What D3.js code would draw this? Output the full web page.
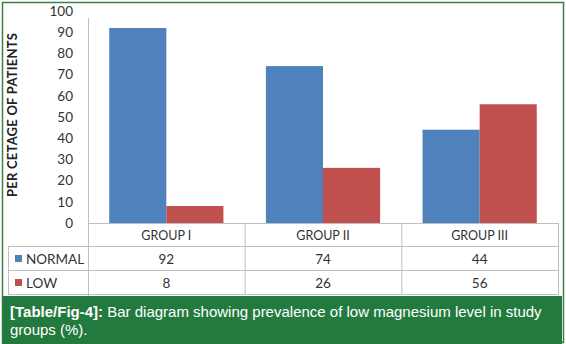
<!DOCTYPE html>
<html><head><meta charset="utf-8">
<script src="https://cdn.jsdelivr.net/npm/d3@7"></script>
<style>body{margin:0;background:#fff}svg{display:block}</style>
</head><body>
<script>
const categories = ["GROUP I", "GROUP II", "GROUP III"];
const seriesNames = ["NORMAL", "LOW"];
const normalValues = [92, 74, 44];
const lowValues = [8, 26, 56];
const yTicks = [0, 10, 20, 30, 40, 50, 60, 70, 80, 90, 100];
const yTitle = "PER CETAGE OF PATIENTS";
const captionBold = "[Table/Fig-4]:";
const captionLine1 = " Bar diagram showing prevalence of low magnesium level in study";
const captionLine2 = "groups (%).";

(function () {
const W = 566, H = 344;
const colors = ["#4F81BD", "#C0504D"];
const series = [normalValues, lowValues];
const svg = d3.select("body").append("svg").attr("width", W).attr("height", H);
const font = "Lato, 'Open Sans', sans-serif";

svg.append("rect").attr("x", 2.5).attr("y", 2.5).attr("width", 561).attr("height", 340)
  .attr("fill", "#fff").attr("stroke", "#3C7D48").attr("stroke-width", 1.5);

const pLeft = 88, pRight = 558, pTop = 11, pBottom = 223;
const x = d3.scaleBand().domain(categories).range([pLeft, pRight]).paddingInner(0).paddingOuter(0);
const x1 = d3.scaleBand().domain(seriesNames).range([0, x.bandwidth()]).paddingInner(0).paddingOuter(0.372);
const y = d3.scaleLinear().domain([0, 100]).range([pBottom, pTop]);

seriesNames.forEach((s, si) => {
  svg.append("g").selectAll("rect").data(categories).join("rect")
    .attr("x", c => x(c) + x1(s))
    .attr("y", (c, i) => y(series[si][i]))
    .attr("width", x1.bandwidth())
    .attr("height", (c, i) => y(0) - y(series[si][i]))
    .attr("fill", colors[si]);
});

const yAxis = d3.axisLeft(y).tickValues(yTicks).tickSize(0).tickPadding(15);
const ya = svg.append("g").attr("transform", `translate(${pLeft},0)`).call(yAxis);
ya.select(".domain").remove();
ya.selectAll("text").attr("font-family", font).attr("font-size", 13.5).attr("fill", "#333");

const lineC = "#BFBFBF";
svg.append("line").attr("x1", pLeft + 0.5).attr("x2", pLeft + 0.5).attr("y1", 18).attr("y2", 296).attr("stroke", lineC);

const rowH = [223, 246.5, 270.5, 294.5];
svg.append("line").attr("x1", pLeft).attr("x2", pRight + 0.5).attr("y1", rowH[0] + 0.5).attr("y2", rowH[0] + 0.5).attr("stroke", lineC);
for (let r = 1; r < rowH.length; r++) {
  svg.append("line").attr("x1", 8).attr("x2", pRight + 0.5).attr("y1", rowH[r]).attr("y2", rowH[r]).attr("stroke", lineC);
}
svg.append("line").attr("x1", 8.5).attr("x2", 8.5).attr("y1", rowH[1]).attr("y2", rowH[3]).attr("stroke", lineC);
categories.forEach(c => {
  svg.append("line").attr("x1", x(c) + x.bandwidth() + 0.5).attr("x2", x(c) + x.bandwidth() + 0.5)
    .attr("y1", rowH[0]).attr("y2", rowH[3]).attr("stroke", lineC);
});
svg.append("g").selectAll("text").data(categories).join("text")
  .attr("x", c => x(c) + x.bandwidth() / 2).attr("y", 240)
  .attr("text-anchor", "middle").attr("font-family", font).attr("font-size", 12.5).attr("fill", "#333")
  .text(c => c);
seriesNames.forEach((s, si) => {
  const cy = (rowH[si + 1] + rowH[si + 2]) / 2;
  svg.append("rect").attr("x", 15).attr("y", cy - 3.5).attr("width", 7).attr("height", 7).attr("fill", colors[si]);
  svg.append("text").attr("x", 26).attr("y", cy + 5).attr("font-family", font).attr("font-size", 13.5).attr("fill", "#333").text(s);
  svg.append("g").selectAll("text").data(categories).join("text")
    .attr("x", c => x(c) + x.bandwidth() / 2).attr("y", cy + 5)
    .attr("text-anchor", "middle").attr("font-family", font).attr("font-size", 13.5).attr("fill", "#333")
    .text((c, i) => series[si][i]);
});

svg.append("text").attr("transform", `translate(17,${(33 + 197) / 2}) rotate(-90)`)
  .attr("text-anchor", "middle").attr("font-family", font).attr("font-weight", "bold")
  .attr("font-size", 13).attr("textLength", 164).attr("lengthAdjust", "spacing")
  .attr("fill", "#222").text(yTitle);

svg.append("rect").attr("x", 2).attr("y", 296).attr("width", 560).attr("height", 48).attr("fill", "#237A3E");
const cap = svg.append("text").attr("x", 10).attr("y", 317).attr("font-family", "'Liberation Sans', Arial, sans-serif")
  .attr("font-size", 15).attr("fill", "#fff");
cap.append("tspan").attr("font-weight", "bold").text(captionBold);
cap.append("tspan").text(captionLine1);
svg.append("text").attr("x", 10).attr("y", 335).attr("font-family", "'Liberation Sans', Arial, sans-serif")
  .attr("font-size", 15).attr("fill", "#fff").text(captionLine2);
})();
</script>
</body></html>
